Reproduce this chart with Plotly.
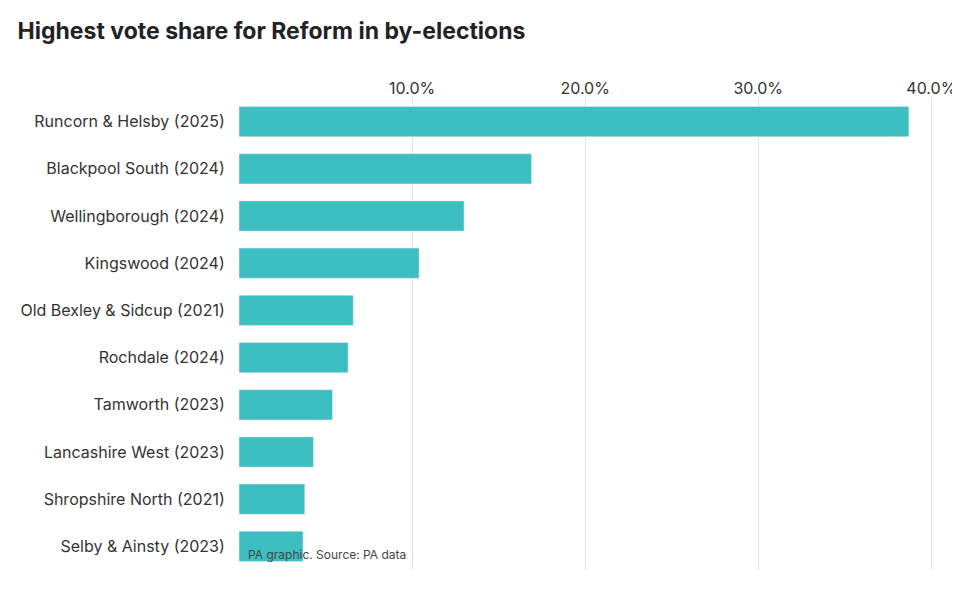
import plotly.graph_objects as go

constituencies = ["Runcorn & Helsby (2025)", "Blackpool South (2024)", "Wellingborough (2024)",
                  "Kingswood (2024)", "Old Bexley & Sidcup (2021)", "Rochdale (2024)",
                  "Tamworth (2023)", "Lancashire West (2023)", "Shropshire North (2021)",
                  "Selby & Ainsty (2023)"]
vote_share = [38.7, 16.9, 13.0, 10.4, 6.6, 6.3, 5.4, 4.3, 3.8, 3.7]
tick_vals = [10, 20, 30, 40]
tick_text = ["10.0%", "20.0%", "30.0%", "40.0%"]

fig = go.Figure(go.Bar(
    x=vote_share, y=constituencies, orientation="h",
    marker_color="#3dbfc1", width=0.64,
))

fig.update_layout(
    width=960, height=611,
    margin=dict(l=216, r=20, t=90, b=49),
    paper_bgcolor="white", plot_bgcolor="white",
    font=dict(family="Inter, Roboto, sans-serif", color="#333333"),
    showlegend=False,
    title=dict(text="<b>Highest vote share for Reform in by-elections</b>",
               x=0.01, xanchor="left", y=0.975, yanchor="top",
               font=dict(size=23, color="#222222")),
    annotations=[dict(text="PA graphic. Source: PA data", x=0.01, y=0.012,
                      xref="paper", yref="paper", xanchor="left", yanchor="bottom",
                      showarrow=False, font=dict(size=12, color="#444444"))],
)
fig.update_xaxes(range=[0, 40.73], side="top", tickvals=tick_vals, ticktext=tick_text,
                 showgrid=True, gridcolor="#e3e3e3", zeroline=False,
                 tickfont=dict(size=16, color="#333333"), ticks="", fixedrange=True)
fig.update_yaxes(autorange="reversed", tickfont=dict(size=16, color="#333333"),
                 ticks="outside", ticklen=10, tickcolor="white", showline=False)

fig.write_html("out.html")
